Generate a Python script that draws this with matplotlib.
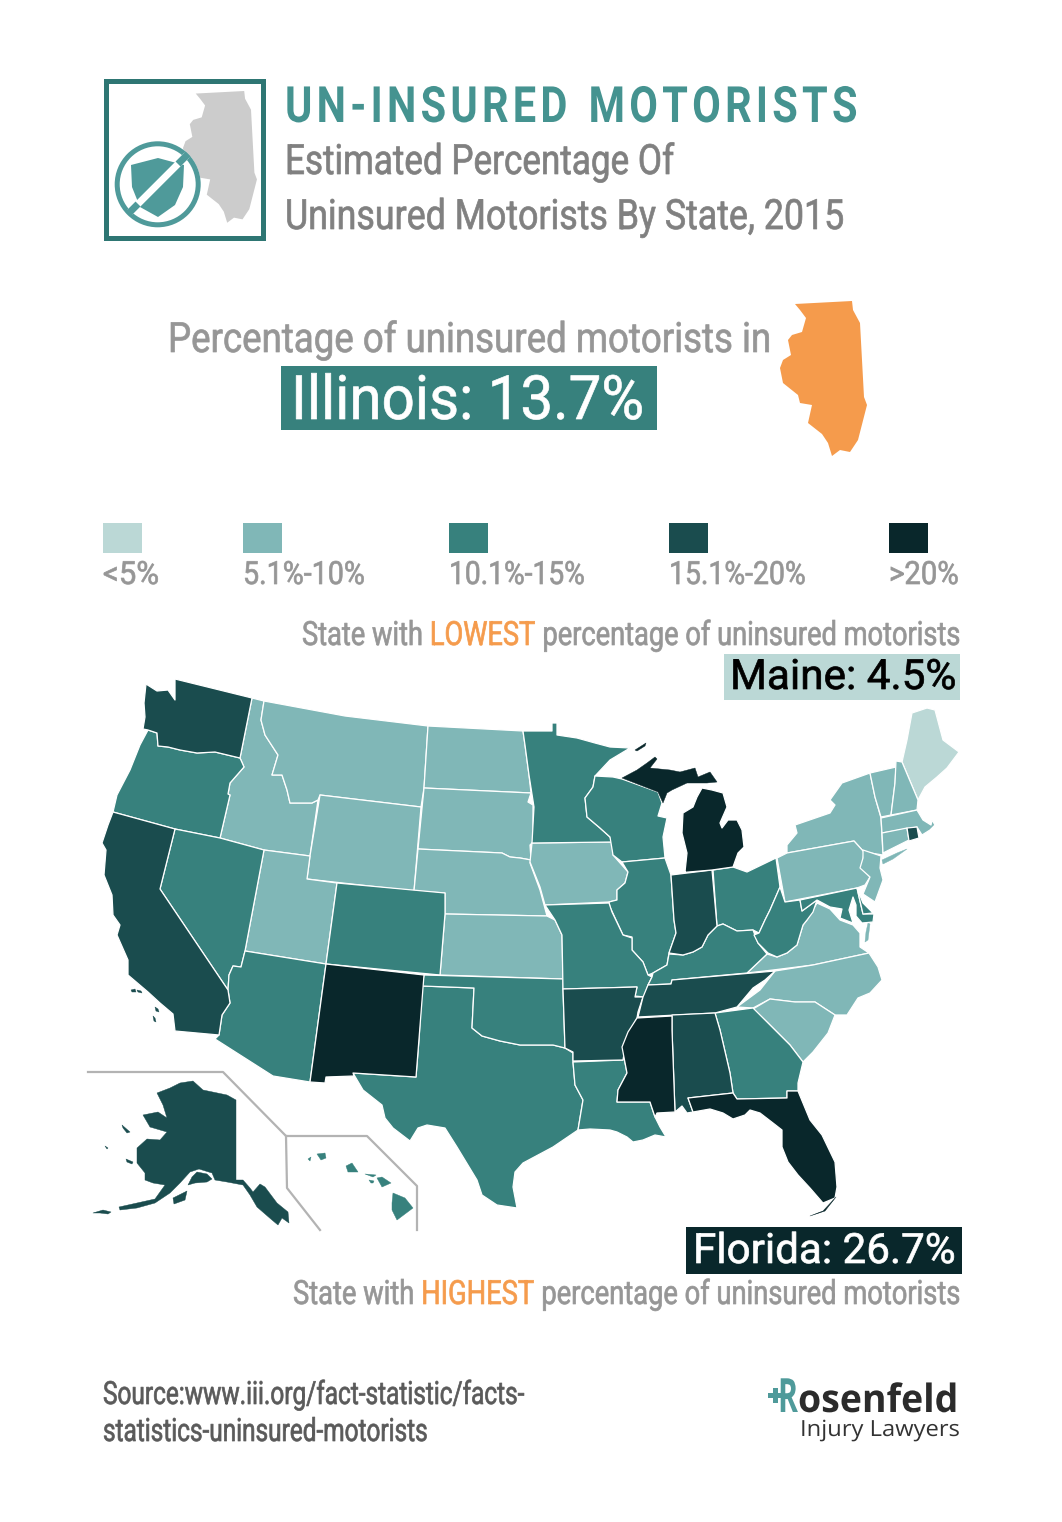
import matplotlib
matplotlib.use("Agg")
import matplotlib.pyplot as plt
from matplotlib.patches import Polygon, Rectangle, Circle
from matplotlib.patheffects import AbstractPathEffect
from matplotlib.text import Text
from matplotlib.transforms import Affine2D

W, H = 1062, 1522
SANS = ["Roboto", "Liberation Sans", "DejaVu Sans"]
LOGO = ["Open Sans", "DejaVu Sans"]

# colour bins
bin_labels = ["<5%", "5.1%-10%", "10.1%-15%", "15.1%-20%", ">20%"]
bin_colors = ["#bbd8d6", "#80b7b7", "#37817d", "#1a4c4e", "#09272b"]
bin_x = [103, 243, 449, 669, 889]
bin_label_w = [56, 122, 136, 137, 70]

# which bin each state falls in
bin0 = ["ME"]
bin1 = ["ID", "MT", "WY", "ND", "SD", "NE", "KS", "UT", "IA", "NY", "PA", "NJ", "VT", "NH", "MA", "CT", "VA", "NC", "SC"]
bin2 = ["OR", "NV", "AZ", "CO", "TX", "OK", "MN", "WI", "IL", "MO", "LA", "OH", "KY", "WV", "GA", "MD", "DE", "HI"]
bin3 = ["WA", "CA", "AK", "AR", "TN", "AL", "IN", "RI"]
bin4 = ["NM", "MS", "MI", "FL"]

# state outlines, traced in picture pixels. first ring is the mainland, the rest are islands
shapes = {
    "WA": [[(146,684),(157,691),(168,690),(175,700),(175,679),(252,698),(240,758),(215,752),(197,753),(180,750),(168,747),(158,746),(157,733),(148,730),(143,729),(145,717),(144,703)]],
    "OR": [[(148,730),(157,733),(158,746),(168,747),(180,750),(197,753),(215,752),(240,758),(244,767),(230,783),(228,794),(230,795),(220,838),(175,829),(113,812),(117,795),(130,770),(140,745)]],
    "CA": [[(113,812),(175,829),(160,889),(228,990),(230,1003),(222,1015),(219,1035),(175,1031),(173,1014),(160,1003),(148,992),(128,975),(128,960),(117,935),(120,925),(113,915),(112,895),(104,875),(106,850),(102,843),(108,825)],
           [(131,990),(135,989),(136,992),(132,992)],[(137,990),(141,991),(142,993),(138,992)],[(155,1007),(158,1009),(159,1012),(156,1011)],[(153,1016),(155,1018),(156,1022),(154,1021)]],
    "NV": [[(175,829),(220,838),(264,850),(245,951),(241,967),(233,966),(229,975),(228,990),(160,889)]],
    "ID": [[(252,698),(264,701),(261,720),(265,735),(278,755),(272,775),(282,775),(287,790),(290,803),(312,803),(318,800),(310,856),(264,850),(220,838),(230,795),(228,794),(230,783),(244,767),(240,758)]],
    "MT": [[(264,701),(345,716),(428,726),(424,788),(421,807),(320,795),(318,800),(312,803),(290,803),(287,790),(282,775),(272,775),(278,755),(265,735),(261,720)]],
    "WY": [[(320,795),(421,807),(414,891),(307,879),(310,856)]],
    "ND": [[(428,726),(523,731),(525,745),(529,775),(531,793),(424,788)]],
    "SD": [[(424,788),(531,793),(528,802),(533,805),(533,842),(530,845),(531,860),(520,858),(510,857),(502,853),(418,849)]],
    "NE": [[(418,849),(502,853),(510,857),(520,858),(531,860),(530,863),(540,890),(547,916),(445,914),(445,893),(414,891)]],
    "KS": [[(445,914),(547,916),(555,920),(562,935),(563,979),(440,975)]],
    "CO": [[(337,883),(445,893),(445,914),(440,975),(326,964)]],
    "UT": [[(264,850),(310,856),(307,879),(337,883),(326,964),(245,951)]],
    "AZ": [[(245,951),(326,964),(310,1082),(273,1076),(215,1039),(219,1035),(222,1015),(230,1003),(228,990),(229,975),(233,966),(241,967)]],
    "NM": [[(326,964),(424,975),(416,1077),(353,1073),(354,1076),(326,1077),(325,1083),(310,1082)]],
    "TX": [[(422,986),(474,988),(472,1028),(482,1036),(500,1041),(520,1045),(537,1045),(553,1045),(565,1048),(573,1053),(573,1062),(575,1085),(583,1100),(578,1130),(553,1147),(523,1163),(515,1172),(513,1187),(517,1208),(497,1205),(482,1195),(477,1180),(457,1147),(445,1128),(427,1125),(418,1128),(410,1141),(393,1128),(385,1118),(382,1105),(363,1090),(353,1073),(416,1077),(419,1040)]],
    "OK": [[(424,975),(563,979),(563,990),(565,1048),(553,1045),(537,1045),(520,1045),(500,1041),(482,1036),(472,1028),(474,988),(422,986)]],
    "MN": [[(523,731),(552,731),(552,723),(557,723),(557,735),(577,738),(595,743),(610,747),(630,748),(610,760),(595,776),(593,787),(585,798),(587,817),(600,828),(610,837),(612,842),(532,843),(534,807),(529,775),(525,745)]],
    "IA": [[(532,843),(612,842),(613,855),(628,872),(625,883),(617,890),(617,900),(609,902),(545,905),(540,887),(530,862)]],
    "WI": [[(595,776),(613,777),(622,779),(658,792),(662,803),(658,816),(667,818),(663,837),(665,858),(622,862),(613,855),(610,837),(600,828),(587,817),(585,798),(593,787)]],
    "IL": [[(622,862),(665,858),(671,875),(674,920),(676,933),(669,953),(667,965),(653,973),(648,975),(643,962),(632,950),(632,937),(623,935),(610,907),(609,902),(617,900),(617,890),(625,883),(628,872)]],
    "IN": [[(671,875),(712,870),(717,926),(708,935),(702,947),(693,952),(683,955),(669,953),(676,933),(674,920)]],
    "MI": [[(677,873),(712,870),(733,867),(738,853),(744,847),(742,830),(737,820),(728,820),(722,828),(720,823),(727,807),(723,793),(712,790),(702,788),(697,797),(693,807),(683,813),(682,833),(687,853),(685,872)],
           [(622,778),(637,770),(647,763),(655,757),(657,759),(650,768),(670,770),(680,772),(695,768),(698,777),(710,772),(717,782),(707,783),(687,783),(672,790),(667,793),(663,803),(658,792)],
           [(635,750),(646,743),(645,746),(637,751)]],
    "OH": [[(713,870),(733,867),(747,872),(776,858),(780,887),(770,910),(765,920),(759,933),(753,930),(737,931),(723,924),(717,926)]],
    "PA": [[(777,858),(787,853),(854,841),(864,852),(862,868),(870,877),(865,885),(857,888),(785,902)]],
    "NY": [[(787,853),(787,845),(797,833),(795,825),(830,813),(835,805),(830,800),(842,783),(870,773),(875,797),(881,818),(883,855),(864,852),(854,841)],
           [(882,860),(897,853),(907,849),(893,859),(883,864)]],
    "VT": [[(870,773),(896,767),(895,783),(891,815),(881,817),(875,797)]],
    "NH": [[(896,761),(902,762),(918,800),(917,810),(891,815),(895,783)]],
    "ME": [[(902,762),(907,740),(912,713),(927,708),(935,710),(943,740),(959,752),(947,768),(937,777),(925,787),(918,800)]],
    "MA": [[(881,818),(917,810),(923,820),(931,825),(932,820),(935,825),(930,830),(922,835),(917,827),(882,833)]],
    "CT": [[(882,833),(907,828),(909,840),(883,853)]],
    "RI": [[(907,828),(917,827),(919,838),(909,841)]],
    "NJ": [[(863,850),(881,856),(880,868),(883,880),(875,902),(863,894),(870,877),(860,868),(863,858)]],
    "DE": [[(857,888),(863,903),(873,913),(863,914)]],
    "MD": [[(800,900),(857,888),(863,914),(874,914),(873,922),(862,923),(856,916),(856,905),(853,897),(849,910),(853,923),(840,918),(842,909),(830,907),(817,900),(802,911)]],
    "WV": [[(780,887),(785,902),(800,900),(802,911),(817,900),(813,912),(807,920),(803,925),(797,945),(787,953),(777,957),(768,953),(758,943),(754,935),(759,933),(765,920),(770,910)]],
    "VA": [[(747,973),(767,954),(777,957),(787,953),(797,945),(803,925),(807,920),(817,903),(830,909),(840,920),(853,925),(860,933),(860,947),(869,953),(813,965),(773,970)],
           [(865,942),(866,932),(868,923),(870,924),(868,940)]],
    "NC": [[(737,1007),(760,990),(775,971),(813,965),(869,953),(878,967),(882,980),(870,993),(858,998),(847,1015),(835,1015),(815,1002),(795,1002),(770,999),(753,1008)]],
    "SC": [[(753,1009),(770,999),(795,1002),(815,1002),(835,1015),(828,1033),(813,1052),(803,1062),(790,1045),(767,1022)]],
    "GA": [[(715,1013),(753,1008),(767,1022),(790,1045),(803,1062),(798,1083),(798,1091),(787,1091),(787,1098),(737,1099),(733,1093),(730,1073),(720,1030)]],
    "AL": [[(672,1015),(715,1013),(720,1030),(730,1073),(733,1093),(688,1098),(693,1112),(687,1113),(682,1106),(675,1112),(672,1030)]],
    "FL": [[(688,1098),(733,1093),(737,1099),(787,1098),(787,1091),(798,1091),(810,1120),(822,1135),(835,1162),(837,1187),(835,1198),(823,1203),(810,1188),(798,1175),(788,1162),(782,1147),(782,1130),(773,1123),(760,1113),(750,1110),(745,1115),(733,1119),(723,1113),(710,1109),(693,1112)],
           [(810,1216),(823,1211),(836,1197),(825,1211)]],
    "MS": [[(637,1018),(672,1016),(672,1030),(675,1112),(657,1113),(655,1117),(650,1102),(617,1102),(618,1090),(627,1073),(622,1047),(628,1032)]],
    "AR": [[(563,989),(637,987),(635,997),(643,997),(638,1012),(637,1018),(627,1037),(623,1060),(573,1061),(573,1052),(565,1048)]],
    "LA": [[(573,1062),(623,1060),(622,1047),(627,1073),(618,1090),(617,1102),(650,1102),(655,1117),(660,1127),(666,1137),(655,1135),(643,1140),(633,1142),(627,1137),(617,1132),(610,1130),(590,1129),(578,1130),(583,1100),(575,1085)]],
    "MO": [[(545,905),(609,903),(612,912),(623,935),(632,938),(632,950),(643,962),(648,975),(652,977),(648,985),(644,997),(635,996),(637,987),(563,989),(562,935),(555,920)]],
    "KY": [[(648,985),(652,977),(653,973),(667,965),(669,954),(683,955),(693,952),(702,947),(708,935),(717,926),(723,924),(737,931),(753,930),(758,943),(767,954),(747,973),(672,980),(671,984)]],
    "TN": [[(648,985),(671,984),(672,980),(775,971),(765,980),(753,988),(737,1007),(715,1013),(638,1017),(643,997)]],
    "AK": [[(157,1093),(170,1088),(180,1083),(193,1081),(203,1090),(227,1095),(236,1100),(236,1180),(243,1180),(250,1188),(253,1192),(260,1184),(265,1187),(277,1203),(288,1212),(289,1223),(282,1218),(278,1225),(272,1220),(257,1207),(250,1195),(243,1185),(227,1182),(215,1180),(212,1173),(199,1169),(190,1172),(180,1183),(170,1193),(155,1203),(137,1208),(120,1210),(119,1207),(137,1203),(155,1199),(165,1185),(153,1183),(145,1180),(145,1173),(137,1163),(137,1148),(147,1139),(160,1140),(167,1132),(150,1127),(143,1115),(158,1112),(167,1118),(163,1105)],
           [(188,1185),(192,1177),(197,1172),(207,1174),(212,1179),(207,1182),(195,1183)],
           [(126,1159),(133,1162),(132,1164),(127,1162)],[(122,1125),(130,1132),(127,1133),(123,1128)],[(173,1198),(187,1191),(185,1200),(174,1204)],
           [(93,1213),(103,1210),(111,1212),(108,1214),(100,1213)],[(105,1146),(108,1148),(107,1149)]],
    "HI": [[(392,1203),(393,1193),(405,1198),(413,1208),(397,1220),(392,1210)],[(377,1178),(382,1177),(391,1183),(382,1187)],[(365,1174),(376,1175),(373,1177)],
           [(369,1180),(374,1181),(373,1183),(371,1183)],[(346,1166),(352,1163),(358,1172),(348,1172)],[(317,1154),(325,1153),(326,1158),(321,1160)],[(308,1159),(311,1157),(310,1161)]],
}

illinois = [(795,304),(852,301),(853,310),(860,323),(864,397),(867,405),(858,440),(850,452),(840,450),(832,456),(828,443),(822,434),(808,423),(812,405),(800,403),(798,395),(783,383),(780,368),(783,360),(791,355),(788,340),(792,335),(802,332),(806,318),(800,310)]
shield = [(131,165),(158,158),(184,165),(183,187),(175,205),(158,217),(140,207),(132,187)]
inset_alaska = [(88,1072),(223,1072),(286,1136),(367,1136),(417,1186),(417,1230)]
inset_hawaii = [(286,1136),(287,1188),(320,1230)]


class Tall(AbstractPathEffect):
    """stretch a text upward from its baseline, the original font is a condensed one"""

    def __init__(self, sy, y0, bold=0.0):
        super().__init__()
        self.sy, self.y0, self.bold = sy, y0, bold

    def draw_path(self, renderer, gc, tpath, affine, rgbFace=None):
        stretch = Affine2D().translate(0, -self.y0).scale(1, self.sy).translate(0, self.y0)
        gc0 = renderer.new_gc()
        gc0.copy_properties(gc)
        gc0.set_linewidth(self.bold)
        renderer.draw_path(gc0, tpath, affine + stretch, rgbFace)
        gc0.restore()


fig = plt.figure(figsize=(W / 100, H / 100), dpi=100)
ax = fig.add_axes([0, 0, 1, 1])
ax.set_xlim(0, W)
ax.set_ylim(H, 0)
ax.axis("off")
renderer = fig.canvas.get_renderer()


def natural(s, size, family=SANS, **kw):
    t = Text(0, 0, s, fontsize=size, family=family, figure=fig, **kw)
    return t.get_window_extent(renderer).width


def put(x, y, s, width, size, color="#808080", family=SANS, sx=None, bold=0.5, **kw):
    # size is the height the letters should have, width the length of the line
    sx = sx if sx else width / natural(s, size, family, **kw)
    t = ax.text(x, y, s, fontsize=size * sx, color=color, ha="left", va="baseline", family=family, **kw)
    t.set_path_effects([Tall(1 / sx, ax.transData.transform((x, y))[1], bold)])
    return t


def put_parts(right, y, before, word, after, width, size, color="#969696", accent="#f59b4c"):
    # one line with one coloured word in it
    full = before + word + after
    sx = width / natural(full, size)
    left = right - width
    put(left, y, before.strip(), None, size, color, sx=sx)
    put(left + sx * (natural(before + word, size) - natural(word, size)), y, word, None, size, accent, sx=sx)
    put(right - sx * natural(after.strip(), size), y, after.strip(), None, size, color, sx=sx)


# header icon
ax.add_patch(Rectangle((105.5, 80.5), 157, 157, fill=False, ec="#2e7673", lw=3.6))
gray_il = [(183 + (x - 780) * 0.85, 91 + (y - 301) * 0.85) for x, y in illinois]
ax.add_patch(Polygon(gray_il, fc="#cccccc", ec="none"))
ax.add_patch(Circle((157.7, 184.3), 43, fc="white", ec="none"))
ax.add_patch(Circle((157.7, 184.3), 40.5, fc="white", ec="#4f9a9a", lw=3.6))
ax.add_patch(Polygon(shield, fc="#4f9a9a", ec="none"))
ax.plot([130, 187], [212, 155], color="white", lw=5, solid_capstyle="butt")
ax.plot([128, 138], [214, 204], color="#4f9a9a", lw=5, solid_capstyle="butt")
ax.plot([178, 188], [164, 154], color="#4f9a9a", lw=5, solid_capstyle="butt")

# heading
put(285, 122, "\u200a".join("UN-INSURED") + "\u2002" + "\u200a".join("MOTORISTS"), 573, 36, "#459390", bold=0, fontweight="bold")
put(285, 174, "Estimated Percentage Of", 388, 30)
put(285, 229, "Uninsured Motorists By State, 2015", 558, 30)

# Illinois call-out
put(168, 352, "Percentage of uninsured motorists in", 602, 30, "#969696")
ax.add_patch(Rectangle((281, 366), 376, 64, fc=bin_colors[2], ec="none"))
put(291, 419, "Illinois: 13.7%", 353, 44, "white")
ax.add_patch(Polygon(illinois, fc="#f59b4c", ec="none"))

# legend
for x, lab, lw, col in zip(bin_x, bin_labels, bin_label_w, bin_colors):
    ax.add_patch(Rectangle((x, 523), 39, 30, fc=col, ec="none"))
    put(x, 584, lab, lw, 23, "#969696")

# lowest state
put_parts(960, 645, "State with ", "LOWEST", " percentage of uninsured motorists", 658, 24)
ax.add_patch(Rectangle((724, 654), 236, 46, fc=bin_colors[0], ec="none"))
put(730, 689, "Maine: 4.5%", 226, 30, "black")

# map
for i, states in enumerate([bin0, bin1, bin2, bin3, bin4]):
    for st in states:
        for j, ring in enumerate(shapes[st]):
            edge = bin_colors[i] if j or st in ("AK", "HI") else "white"
            ax.add_patch(Polygon(ring, fc=bin_colors[i], ec=edge, lw=0.9 if edge == "white" else 0.3,
                                 joinstyle="round", zorder=2))
ax.plot(*zip(*inset_alaska), color="#b3b3b3", lw=1.6, zorder=1)
ax.plot(*zip(*inset_hawaii), color="#b3b3b3", lw=1.6, zorder=1)

# highest state
ax.add_patch(Rectangle((686, 1227), 276, 47, fc=bin_colors[4], ec="none"))
put(693, 1263, "Florida: 26.7%", 262, 30, "white")
put_parts(960, 1304, "State with ", "HIGHEST", " percentage of uninsured motorists", 667, 24)

# source and logo
put(103, 1404, "Source:www.iii.org/fact-statistic/facts-", 423, 23, "#5a5a5a")
put(103, 1441, "statistics-uninsured-motorists", 326, 23, "#5a5a5a")
put(778, 1412, "R", 20, 34, "#4f9a9a", family=LOGO, bold=0, fontweight="bold")
ax.add_patch(Rectangle((768, 1393), 14, 5, fc="#4f9a9a", ec="none"))
ax.add_patch(Rectangle((772.5, 1388), 5, 15, fc="#4f9a9a", ec="none"))
put(798, 1412, "osenfeld", 160, 28, "#2b2b2b", family=LOGO, bold=0, fontweight="bold")
put(800, 1436, "Injury Lawyers", 160, 16, "#333333", family=LOGO, bold=0)

fig.savefig("out.png", dpi=100)
